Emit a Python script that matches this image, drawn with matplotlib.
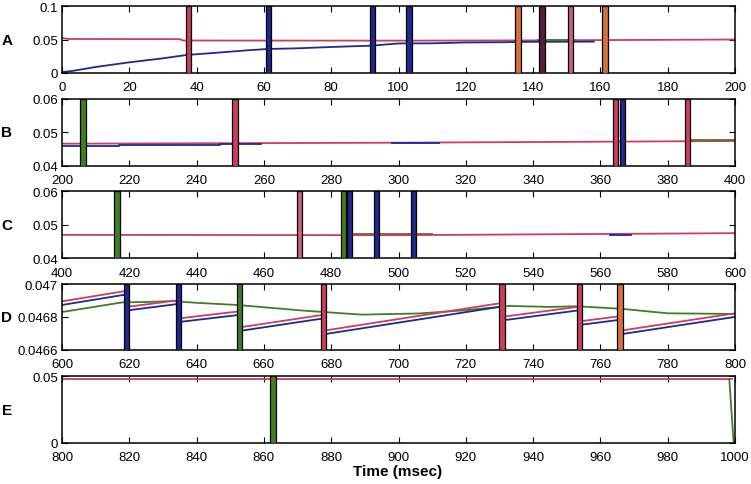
import matplotlib
matplotlib.use("Agg")
import matplotlib.pyplot as plt

plt.rcParams['font.family'] = ['Liberation Sans', 'DejaVu Sans']

RED = '#cc3d62'
BLUE = '#1e2a8e'
GREEN = '#3f7f22'
ORANGE = '#d8703c'
PURPLE = '#5c1c40'
PINK = '#c8607e'

# ---- panel A (0-200 ms) ----
a_red_t = [0, 2, 35, 36, 100, 140, 200]
a_red_v = [0.0525, 0.051, 0.0508, 0.0487, 0.0485, 0.0489, 0.0502]
a_blue_t = [0, 3, 10, 20, 30, 37, 45, 55, 61, 70, 80, 92, 100, 110, 120, 130, 140, 150, 158]
a_blue_v = [0.0015, 0.003, 0.009, 0.016, 0.022, 0.027, 0.030, 0.034, 0.036, 0.037, 0.039, 0.041, 0.0443, 0.0445, 0.0458, 0.0461, 0.0468, 0.0469, 0.0470]
a_green_t = [141.5, 152.5]
a_green_v = [0.0495, 0.0495]
a_spike_t = [37.6, 61.4, 92.2, 103.1, 135.5, 142.6, 151.2, 161.4]
a_spike_c = [RED, BLUE, BLUE, BLUE, ORANGE, PURPLE, PINK, ORANGE]

# ---- panel B (200-400 ms) ----
b_red_t = [200, 300, 400]
b_red_v = [0.0466, 0.0469, 0.0474]
b_blue_t = [200, 217, 217, 247, 247, 259]
b_blue_v = [0.0459, 0.0459, 0.0462, 0.0462, 0.0464, 0.0464]
b_blue2_t = [298, 312]
b_blue2_v = [0.0469, 0.0469]
b_green_t = [386, 400]
b_green_v = [0.0476, 0.0476]
b_spike_t = [206.2, 251.4, 364.4, 366.6, 385.8]
b_spike_c = [GREEN, RED, RED, BLUE, RED]

# ---- panel C (400-600 ms) ----
c_red_t = [400, 500, 600]
c_red_v = [0.0470, 0.0469, 0.0475]
c_green_t = [484, 510]
c_green_v = [0.0472, 0.0472]
c_blue_t = [563, 569]
c_blue_v = [0.0470, 0.0470]
c_spike_t = [416.3, 470.6, 483.7, 485.4, 493.4, 504.4]
c_spike_c = [GREEN, PINK, GREEN, BLUE, BLUE, BLUE]

# ---- panel D (600-800 ms) ----
d_t = [600, 618.8, 619.2, 634.4, 634.8, 652.6, 653.0, 677.4, 677.8,
       730.6, 731.0, 753.5, 753.9, 765.6, 766.0, 800]
d_red_v = [0.046894, 0.046957, 0.046860, 0.046900, 0.046790, 0.046833, 0.046736, 0.046811,
           0.046715, 0.046884, 0.046800, 0.046861, 0.046772, 0.046803, 0.046715, 0.046821]
d_blue_v = [0.046872, 0.046935, 0.046838, 0.046878, 0.046768, 0.046811, 0.046714, 0.046789,
            0.046693, 0.046862, 0.046778, 0.046839, 0.046750, 0.046781, 0.046693, 0.046799]
d_green_t = [600, 618, 625, 633, 640, 652, 660, 672, 689, 706, 720, 729, 733, 745, 753, 766, 780, 800]
d_green_v = [0.046829, 0.046888, 0.046890, 0.046896, 0.046885, 0.046872, 0.046858, 0.046837, 0.046813,
             0.046820, 0.046840, 0.046858, 0.046866, 0.046860, 0.046864, 0.046849, 0.046821, 0.046817]
d_spike_t = [619.2, 634.6, 652.8, 677.8, 730.8, 753.7, 765.8]
d_spike_c = [BLUE, BLUE, GREEN, RED, RED, RED, ORANGE]

# ---- panel E (800-1000 ms) ----
e_red_t = [800, 999]
e_red_v = [0.0481, 0.0481]
e_green_t = [998.3, 999.6]
e_green_v = [0.0481, 0.0]
e_spike_t = [862.7]
e_spike_c = [GREEN]

panels = [
    dict(label='A', xlim=(0, 200), ylim=(0, 0.1), yticks=[0, 0.05, 0.1], ylabels=['0', '0.05', '0.1'],
         lines=[(a_red_t, a_red_v, RED), (a_blue_t, a_blue_v, BLUE), (a_green_t, a_green_v, GREEN)],
         spikes=(a_spike_t, a_spike_c), top=7.3, bot=74),
    dict(label='B', xlim=(200, 400), ylim=(0.04, 0.06), yticks=[0.04, 0.05, 0.06],
         ylabels=['0.04', '0.05', '0.06'],
         lines=[(b_red_t, b_red_v, RED), (b_blue_t, b_blue_v, BLUE), (b_blue2_t, b_blue2_v, BLUE),
                (b_green_t, b_green_v, GREEN)],
         spikes=(b_spike_t, b_spike_c), top=100, bot=166.7),
    dict(label='C', xlim=(400, 600), ylim=(0.04, 0.06), yticks=[0.04, 0.05, 0.06],
         ylabels=['0.04', '0.05', '0.06'],
         lines=[(c_green_t, c_green_v, GREEN), (c_red_t, c_red_v, RED), (c_blue_t, c_blue_v, BLUE)],
         spikes=(c_spike_t, c_spike_c), top=192.3, bot=259.3),
    dict(label='D', xlim=(600, 800), ylim=(0.0466, 0.047), yticks=[0.0466, 0.0468, 0.047],
         ylabels=['0.0466', '0.0468', '0.047'],
         lines=[(d_green_t, d_green_v, GREEN), (d_t, d_red_v, RED), (d_t, d_blue_v, BLUE)],
         spikes=(d_spike_t, d_spike_c), top=285, bot=350.5),
    dict(label='E', xlim=(800, 1000), ylim=(0, 0.05), yticks=[0, 0.05], ylabels=['0', '0.05'],
         lines=[(e_red_t, e_red_v, RED), (e_green_t, e_green_v, GREEN)],
         spikes=(e_spike_t, e_spike_c), top=377.3, bot=444),
]

W, H = 751, 485
fig = plt.figure(figsize=(W / 100, H / 100), dpi=100)

left, right = 62, 735
for p in panels:
    ax = fig.add_axes([left / W, 1 - p['bot'] / H, (right - left) / W, (p['bot'] - p['top']) / H])
    for t, v, c in p['lines']:
        ax.plot(t, v, color=c, lw=1.3, zorder=2)
    for t, c in zip(*p['spikes']):
        ax.axvspan(t - 0.8, t + 0.8, facecolor=c, edgecolor='black', lw=0.9, zorder=3)
    ax.set_xlim(*p['xlim'])
    ax.set_ylim(*p['ylim'])
    x0 = p['xlim'][0]
    ax.set_xticks([x0 + 20 * i for i in range(11)])
    ax.set_yticks(p['yticks'])
    ax.set_yticklabels(p['ylabels'])
    ax.tick_params(direction='in', top=True, right=True, labelsize=9.5, length=4, width=0.8)
    ax.tick_params(axis='x', pad=6)
    ax.tick_params(axis='y', pad=3)
    for s in ax.spines.values():
        s.set_linewidth(1.1)
    fig.text(0.009, 1 - (p['top'] + p['bot']) / 2 / H, p['label'], ha='center', va='center',
             fontsize=11, fontweight='bold')

fig.text(398 / W, 1 - 472 / H, 'Time (msec)', ha='center', va='center', fontsize=11, fontweight='bold')

fig.savefig('out.png', dpi=100)
